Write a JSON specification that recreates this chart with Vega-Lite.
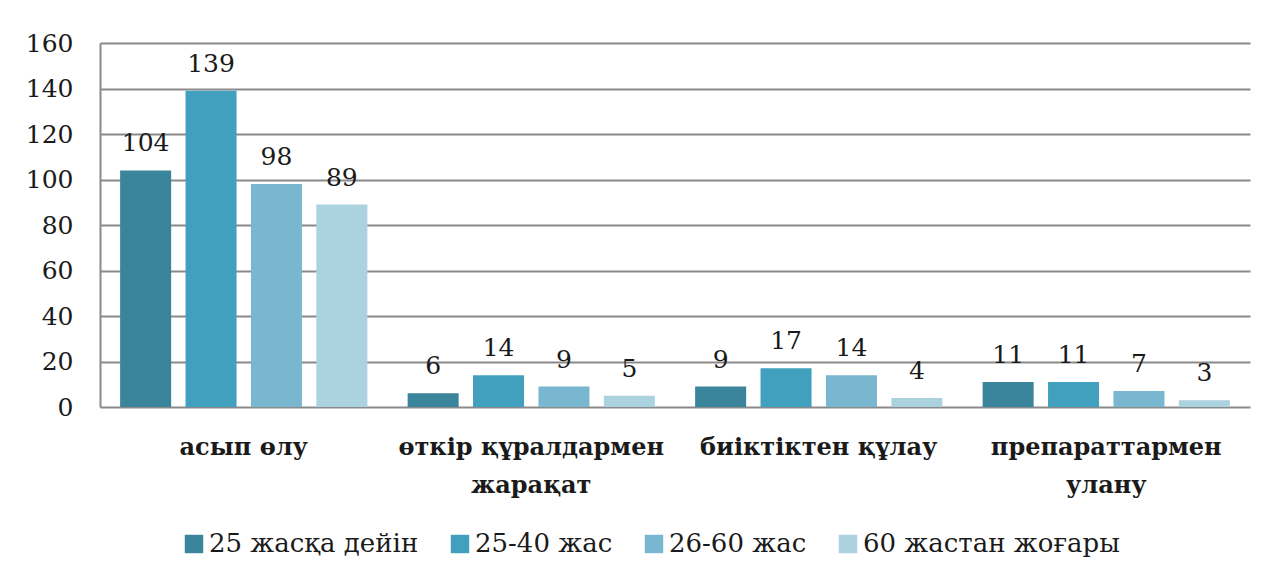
{
  "$schema": "https://vega.github.io/schema/vega-lite/v6.json",
  "width": 1150,
  "height": 364,
  "autosize": {"type": "none"},
  "padding": {"left": 100, "top": 43, "right": 17, "bottom": 170},
  "background": "white",
  "data": {
    "values": [
      {"cat": "асып өлу", "group": "25 жасқа дейін", "value": 104},
      {"cat": "асып өлу", "group": "25-40 жас", "value": 139},
      {"cat": "асып өлу", "group": "26-60 жас", "value": 98},
      {"cat": "асып өлу", "group": "60 жастан жоғары", "value": 89},
      {"cat": "өткір құралдармен жарақат", "group": "25 жасқа дейін", "value": 6},
      {"cat": "өткір құралдармен жарақат", "group": "25-40 жас", "value": 14},
      {"cat": "өткір құралдармен жарақат", "group": "26-60 жас", "value": 9},
      {"cat": "өткір құралдармен жарақат", "group": "60 жастан жоғары", "value": 5},
      {"cat": "биіктіктен  құлау", "group": "25 жасқа дейін", "value": 9},
      {"cat": "биіктіктен  құлау", "group": "25-40 жас", "value": 17},
      {"cat": "биіктіктен  құлау", "group": "26-60 жас", "value": 14},
      {"cat": "биіктіктен  құлау", "group": "60 жастан жоғары", "value": 4},
      {"cat": "препараттармен улану", "group": "25 жасқа дейін", "value": 11},
      {"cat": "препараттармен улану", "group": "25-40 жас", "value": 11},
      {"cat": "препараттармен улану", "group": "26-60 жас", "value": 7},
      {"cat": "препараттармен улану", "group": "60 жастан жоғары", "value": 3}
    ]
  },
  "encoding": {
    "x": {
      "field": "cat",
      "type": "nominal",
      "sort": null,
      "scale": {"paddingInner": 0.09, "paddingOuter": 0.045},
      "axis": {
        "title": null,
        "labelAngle": 0,
        "labelFont": "DejaVu Serif",
        "labelFontWeight": "bold",
        "labelFontSize": 24,
        "labelColor": "#1a1a1a",
        "labelPadding": 28,
        "labelLineHeight": 38,
        "labelLimit": 0,
        "ticks": false,
        "domain": false,
        "labelExpr": "datum.label == 'өткір құралдармен жарақат' ? ['өткір құралдармен', 'жарақат'] : datum.label == 'препараттармен улану' ? ['препараттармен', 'улану'] : datum.label"
      }
    },
    "xOffset": {
      "field": "group",
      "type": "nominal",
      "sort": null,
      "scale": {"paddingInner": 0.22, "paddingOuter": 0.11}
    },
    "y": {
      "field": "value",
      "type": "quantitative",
      "scale": {"domain": [0, 160]},
      "axis": {
        "title": null,
        "values": [0, 20, 40, 60, 80, 100, 120, 140, 160],
        "labelFont": "DejaVu Serif",
        "labelFontSize": 25,
        "labelColor": "#1a1a1a",
        "labelPadding": 27,
        "ticks": false,
        "domain": true,
        "domainColor": "#8a8a8a",
        "domainWidth": 2,
        "grid": true,
        "gridColor": "#8a8a8a",
        "gridWidth": 2
      }
    }
  },
  "layer": [
    {
      "mark": {"type": "bar"},
      "encoding": {
        "color": {
          "field": "group",
          "type": "nominal",
          "sort": null,
          "scale": {
            "domain": ["25 жасқа дейін", "25-40 жас", "26-60 жас", "60 жастан жоғары"],
            "range": ["#3a859b", "#40a0bd", "#79b7d0", "#abd2df"]
          },
          "legend": {
            "title": null,
            "orient": "none",
            "direction": "horizontal",
            "legendX": 81,
            "legendY": 488,
            "symbolType": "square",
            "symbolSize": 340,
            "symbolStrokeWidth": 0,
            "labelFont": "DejaVu Serif",
            "labelFontSize": 26,
            "labelColor": "#1a1a1a",
            "labelOffset": 2,
            "columnPadding": 28,
            "labelLimit": 0
          }
        }
      }
    },
    {
      "mark": {
        "type": "text",
        "baseline": "middle",
        "dy": -27,
        "font": "DejaVu Serif",
        "fontSize": 25,
        "color": "#1a1a1a"
      },
      "encoding": {
        "text": {"field": "value", "type": "quantitative"}
      }
    }
  ],
  "config": {
    "view": {"stroke": null}
  }
}
